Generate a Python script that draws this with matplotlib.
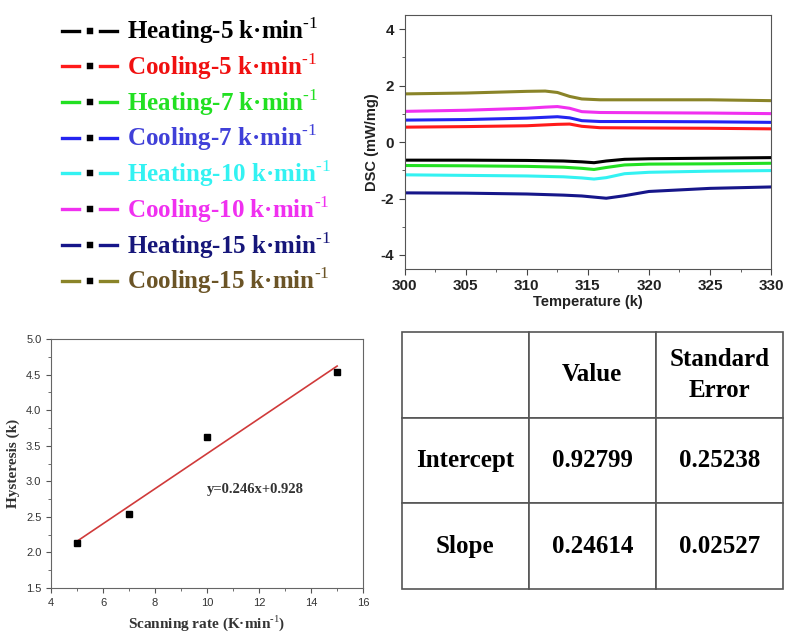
import matplotlib as mpl
mpl.use('Agg')
import matplotlib.pyplot as plt
from matplotlib.lines import Line2D
from matplotlib.ticker import MultipleLocator
import numpy as np

plt.rcParams['axes.unicode_minus'] = False
plt.rcParams['mathtext.fontset'] = 'custom'
plt.rcParams['mathtext.rm'] = 'Liberation Serif'
plt.rcParams['mathtext.bf'] = 'Liberation Serif:bold'

# DSC curves
T_cool = [300, 305, 310, 311.5, 312.5, 313.5, 314.5, 316, 320, 325, 330]
T_heat = [300, 305, 310, 313, 314.5, 315.5, 316.5, 318, 320, 325, 330]

heat_5 = [-0.64, -0.64, -0.65, -0.67, -0.70, -0.73, -0.67, -0.61, -0.59, -0.57, -0.55]
cool_5 = [0.53, 0.55, 0.58, 0.61, 0.63, 0.64, 0.56, 0.51, 0.50, 0.49, 0.47]
heat_7 = [-0.83, -0.84, -0.86, -0.89, -0.93, -0.97, -0.90, -0.81, -0.78, -0.77, -0.75]
cool_7 = [0.78, 0.80, 0.85, 0.88, 0.90, 0.86, 0.76, 0.73, 0.73, 0.72, 0.70]
heat_10 = [-1.16, -1.18, -1.20, -1.23, -1.27, -1.31, -1.26, -1.12, -1.07, -1.03, -1.01]
cool_10 = [1.09, 1.13, 1.20, 1.24, 1.26, 1.20, 1.08, 1.05, 1.04, 1.03, 1.01]
heat_15 = [-1.80, -1.81, -1.84, -1.88, -1.91, -1.95, -1.99, -1.90, -1.75, -1.64, -1.59]
cool_15 = [1.71, 1.74, 1.80, 1.81, 1.76, 1.62, 1.53, 1.50, 1.50, 1.50, 1.47]

sup = r'$^{\mathbf{\u2010}1}$'.replace(r'\u2010', '\u2010')
labels = ['Heating-5 k·min' + sup, 'Cooling-5 k·min' + sup,
          'Heating-7 k·min' + sup, 'Cooling-7 k·min' + sup,
          'Heating-10 k·min' + sup, 'Cooling-10 k·min' + sup,
          'Heating-15 k·min' + sup, 'Cooling-15 k·min' + sup]
line_colors = ['#000000', '#ff1a1a', '#22e022', '#2424f0',
               '#33f2f2', '#f030f0', '#16168a', '#8a8428']
text_colors = ['#000000', '#f01010', '#22e022', '#4040d8',
               '#33f2f2', '#f030f0', '#16167a', '#6b5426']

# hysteresis vs scanning rate
rate = [5, 7, 10, 15]
hyst = [2.14, 2.54, 3.62, 4.53]

# fit table
row_names = ['Intercept', 'Slope']
fit_value = [0.92799, 0.24614]
fit_err = [0.25238, 0.02527]

fig = plt.figure(figsize=(7.86, 6.33), dpi=100)

# ---------- DSC panel ----------
ax = fig.add_axes([0.515, 0.575, 0.466, 0.401])
series = [(T_heat, heat_5), (T_cool, cool_5), (T_heat, heat_7), (T_cool, cool_7),
          (T_heat, heat_10), (T_cool, cool_10), (T_heat, heat_15), (T_cool, cool_15)]
for (t, d), c in zip(series, line_colors):
    ax.plot(t, d, color=c, lw=2.2)
ax.set_xlim(300, 330)
ax.set_ylim(-4.5, 4.5)
ax.xaxis.set_major_locator(MultipleLocator(5))
ax.xaxis.set_minor_locator(MultipleLocator(2.5))
ax.yaxis.set_major_locator(MultipleLocator(2))
ax.yaxis.set_minor_locator(MultipleLocator(1))
ax.tick_params(which='both', direction='out', colors='#444', labelcolor='#222')
ax.tick_params(which='major', length=4)
ax.tick_params(which='minor', length=2.5)
for lab in ax.get_xticklabels() + ax.get_yticklabels():
    lab.set_fontfamily('Liberation Sans')
    lab.set_fontweight('bold')
    lab.set_fontsize(11)
for s in ax.spines.values():
    s.set_color('#555')
ax.set_xlabel('Temperature (k)', family='Liberation Sans', weight='bold',
              fontsize=10.5, color='#222', labelpad=1)
ax.set_ylabel('DSC (mW/mg)', family='Liberation Sans', weight='bold',
              fontsize=10.5, color='#222', labelpad=1)

# ---------- legend ----------
handles = [Line2D([], [], color=c, lw=2.4, marker='s', markersize=9,
                  markerfacecolor='black', markeredgecolor='white',
                  markeredgewidth=4) for c in line_colors]
leg = fig.legend(handles, labels, loc='upper left', bbox_to_anchor=(0.063, 0.995),
                 frameon=False, handlelength=2.2, handletextpad=0.4,
                 labelspacing=0.2, borderpad=0,
                 prop={'family': 'Liberation Serif', 'weight': 'bold', 'size': 18})
for txt, c in zip(leg.get_texts(), text_colors):
    txt.set_color(c)

# ---------- hysteresis panel ----------
ax2 = fig.add_axes([0.065, 0.071, 0.397, 0.3934])
xs = np.array([rate[0], rate[-1]])
ax2.plot(xs, fit_value[0] + fit_value[1] * xs, color='#d03a3a', lw=1.2)
ax2.plot(rate, hyst, 's', color='black', markersize=5)
ax2.set_xlim(4, 16)
ax2.set_ylim(1.5, 5.0)
ax2.xaxis.set_major_locator(MultipleLocator(2))
ax2.xaxis.set_minor_locator(MultipleLocator(1))
ax2.yaxis.set_major_locator(MultipleLocator(0.5))
ax2.yaxis.set_minor_locator(MultipleLocator(0.25))
ax2.tick_params(which='both', direction='out', colors='#555', labelcolor='#333')
ax2.tick_params(which='major', length=3.5)
ax2.tick_params(which='minor', length=2)
for lab in ax2.get_xticklabels() + ax2.get_yticklabels():
    lab.set_fontfamily('Liberation Sans')
    lab.set_fontsize(8)
for s in ax2.spines.values():
    s.set_color('#666')
ax2.set_xlabel('Scanning rate (K·min' + sup + ')', family='Liberation Serif',
               weight='bold', fontsize=11, color='#333')
ax2.set_ylabel('Hysteresis (k)', family='Liberation Serif', weight='bold',
               fontsize=11, color='#333')
ax2.text(10, 2.89, 'y=0.246x+0.928', family='Liberation Serif', weight='bold',
         fontsize=10.5, color='#333', va='center')

# ---------- table ----------
ax3 = fig.add_axes([0.511, 0.0695, 0.485, 0.406])
ax3.axis('off')
cells = [['', 'Value', 'Standard\nError']]
for n, v, e in zip(row_names, fit_value, fit_err):
    cells.append([n, f'{v:.5f}', f'{e:.5f}'])
tab = ax3.table(cellText=cells, bbox=[0, 0, 1, 1], cellLoc='center')
tab.auto_set_font_size(False)
for (r, c), cell in tab.get_celld().items():
    cell.set_edgecolor('#555')
    cell.set_linewidth(1.2)
    cell.get_text().set_fontfamily('Liberation Serif')
    cell.get_text().set_fontweight('bold')
    cell.get_text().set_fontsize(18)
    cell.get_text().set_linespacing(1.45)

fig.savefig('out.png', dpi=100)
